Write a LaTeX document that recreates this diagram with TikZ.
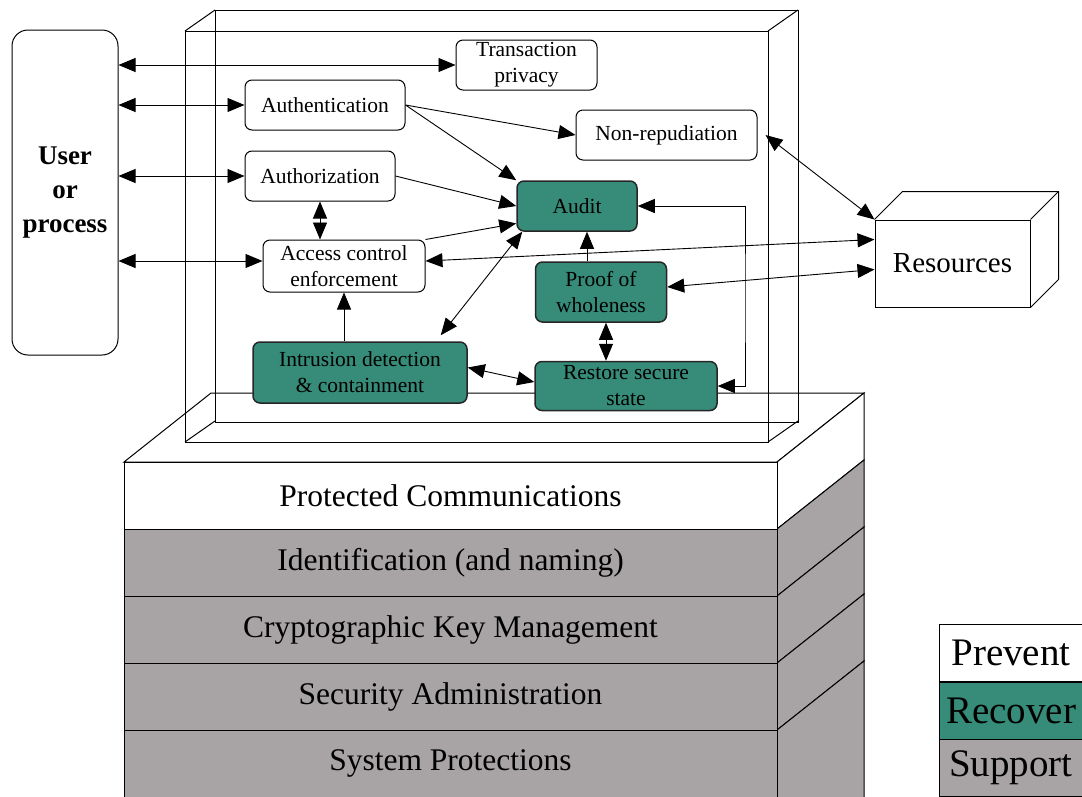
\documentclass[tikz,border=0pt]{standalone}
\usepackage{fontspec}
\setmainfont{Liberation Serif}
\usetikzlibrary{arrows.meta, calc}
\definecolor{recover}{RGB}{54,140,120}
\definecolor{support}{RGB}{168,164,166}

\begin{document}
\begin{tikzpicture}[x=1pt, y=-1pt, line width=1pt,
    box/.style={draw, rounded corners=7pt, align=center, inner sep=0pt, font=\fontsize{21.5}{26}\selectfont},
    prevent/.style={box, fill=white},
    recov/.style={box, fill=recover, draw=black!85, line width=1.5pt},
    link/.style={line width=0.9pt, -{Triangle[length=17pt,width=14pt]}},
    both/.style={line width=0.9pt, {Triangle[length=17pt,width=14pt]}-{Triangle[length=17pt,width=14pt]}},
    layer/.style={draw, minimum width=653pt, minimum height=67pt, inner sep=0pt, font=\fontsize{31.5}{34}\selectfont},
    legend/.style={draw, minimum width=144pt, minimum height=57pt, inner sep=0pt, font=\fontsize{39}{42}\selectfont}]

    \useasboundingbox (0,0) rectangle (1082,796);

    % Draw the layered base
    \draw[fill=white] (124,462) -- (211,393) -- (864,393) -- (777,462) -- cycle;
    \foreach \top/\bot/\col in {462/529/white, 529/596/support, 596/663/support, 663/730/support, 730/870/support}
        \draw[fill=\col] (777,\top) -- ++(87,-69) -- (864,\bot-69) -- (777,\bot) -- cycle;
    \node[layer, fill=white] (comms) at (450.5,495.5) {Protected Communications};
    \node[layer, fill=support] (ident) at (450.5,562.5) {Identification (and naming)};
    \node[layer, fill=support] (keys) at (450.5,629.5) {Cryptographic Key Management};
    \node[layer, fill=support] (admin) at (450.5,696.5) {Security Administration};
    \node[layer, fill=support] (sysprot) at (450.5,763.5) {System Protections};

    % Draw the see-through box
    \draw (185,31) rectangle (768,442);
    \draw (215,10) rectangle (798,422);
    \foreach \cx/\cy in {185/31, 768/31, 185/442, 768/442}
        \draw (\cx,\cy) -- ++(30,-21);

    % User and resources
    \node[box, rounded corners=16pt, minimum width=106pt, minimum height=325pt,
        font=\bfseries\fontsize{27}{34}\selectfont] (user) at (65,192.5) {User\\or\\process};
    \node[draw, fill=white, minimum width=155pt, minimum height=87pt,
        font=\fontsize{29}{31}\selectfont] (res) at (952.5,263.5) {Resources};
    \draw (res.north west) -- ++(28,-28) -| ($(res.south east)+(28,-28)$) -- (res.south east);
    \draw (res.north east) -- ++(28,-28);

    % Services
    \node[prevent, minimum width=141pt, minimum height=50pt] (trans) at (526.5,65) {Transaction\\privacy};
    \node[prevent, minimum width=160pt, minimum height=50pt] (authn) at (325,105) {Authentication};
    \node[prevent, minimum width=150pt, minimum height=50pt] (authz) at (320,176) {Authorization};
    \node[prevent, minimum width=162pt, minimum height=52pt] (access) at (344,266) {Access control\\enforcement};
    \node[prevent, minimum width=181pt, minimum height=50pt] (nonrep) at (666.5,135) {Non-repudiation};
    \node[recov, minimum width=120pt, minimum height=50pt] (audit) at (577,206) {Audit};
    \node[recov, minimum width=131pt, minimum height=60pt] (proof) at (601,292) {Proof of\\wholeness};
    \node[recov, minimum width=214pt, minimum height=61pt] (intru) at (360,372.5) {Intrusion detection\\\& containment};
    \node[recov, minimum width=182pt, minimum height=49pt] (restore) at (626,386) {Restore secure\\state};
    \coordinate (loop) at (745,300);

    % Draw the links
    \draw[both] (user.east |- trans.west) -- (trans.west);
    \draw[both] (user.east |- authn.west) -- (authn.west);
    \draw[both] (user.east |- authz.west) -- (authz.west);
    \draw[both] ($(user.east |- access.west)+(0,-5)$) -- ($(access.west)+(0,-5)$);
    \draw[link] (authn.east) -- (nonrep.west);
    \draw[link] (authn.east) -- (audit.north west);
    \draw[link] (authz.east) -- (audit.west);
    \draw[link] (access.north east) -- (audit.196);
    \draw[both] (authz.south) -- (authz.south |- access.north);
    \draw[both] ($(access.east)+(0,-5)$) -- ($(res.north west)+(0,20)$);
    \draw[both] ($(proof.east)+(0,-5)$) -- ($(res.north west)+(0,50)$);
    \draw[both] ($(nonrep.east)+(8,0)$) -- (res.north west);
    \draw[link] ($(proof.north)+(-14,0)$) -- ($(audit.south)+(10,0)$);
    \draw[both] ($(audit.south west)+(6,0)$) -- ($(intru.north east)+(-27,-6)$);
    \draw[link] (intru.north -| access.south) -- (access.south);
    \draw[both] ($(proof.south)+(5,0)$) -- ($(proof.south |- restore.north)+(5,0)$);
    \draw[both] ($(intru.east)+(0,-5)$) -- ($(restore.west)+(0,-4)$);
    \draw[both] (audit.east) -| (loop) |- (restore.east);

    % Legend
    \node[legend, fill=white] (prev) at (1011,653) {Prevent};
    \node[legend, fill=recover] (recv) at (1011,710.5) {Recover};
    \node[legend, fill=support] (supp) at (1011,768) {Support};
\end{tikzpicture}
\end{document}
